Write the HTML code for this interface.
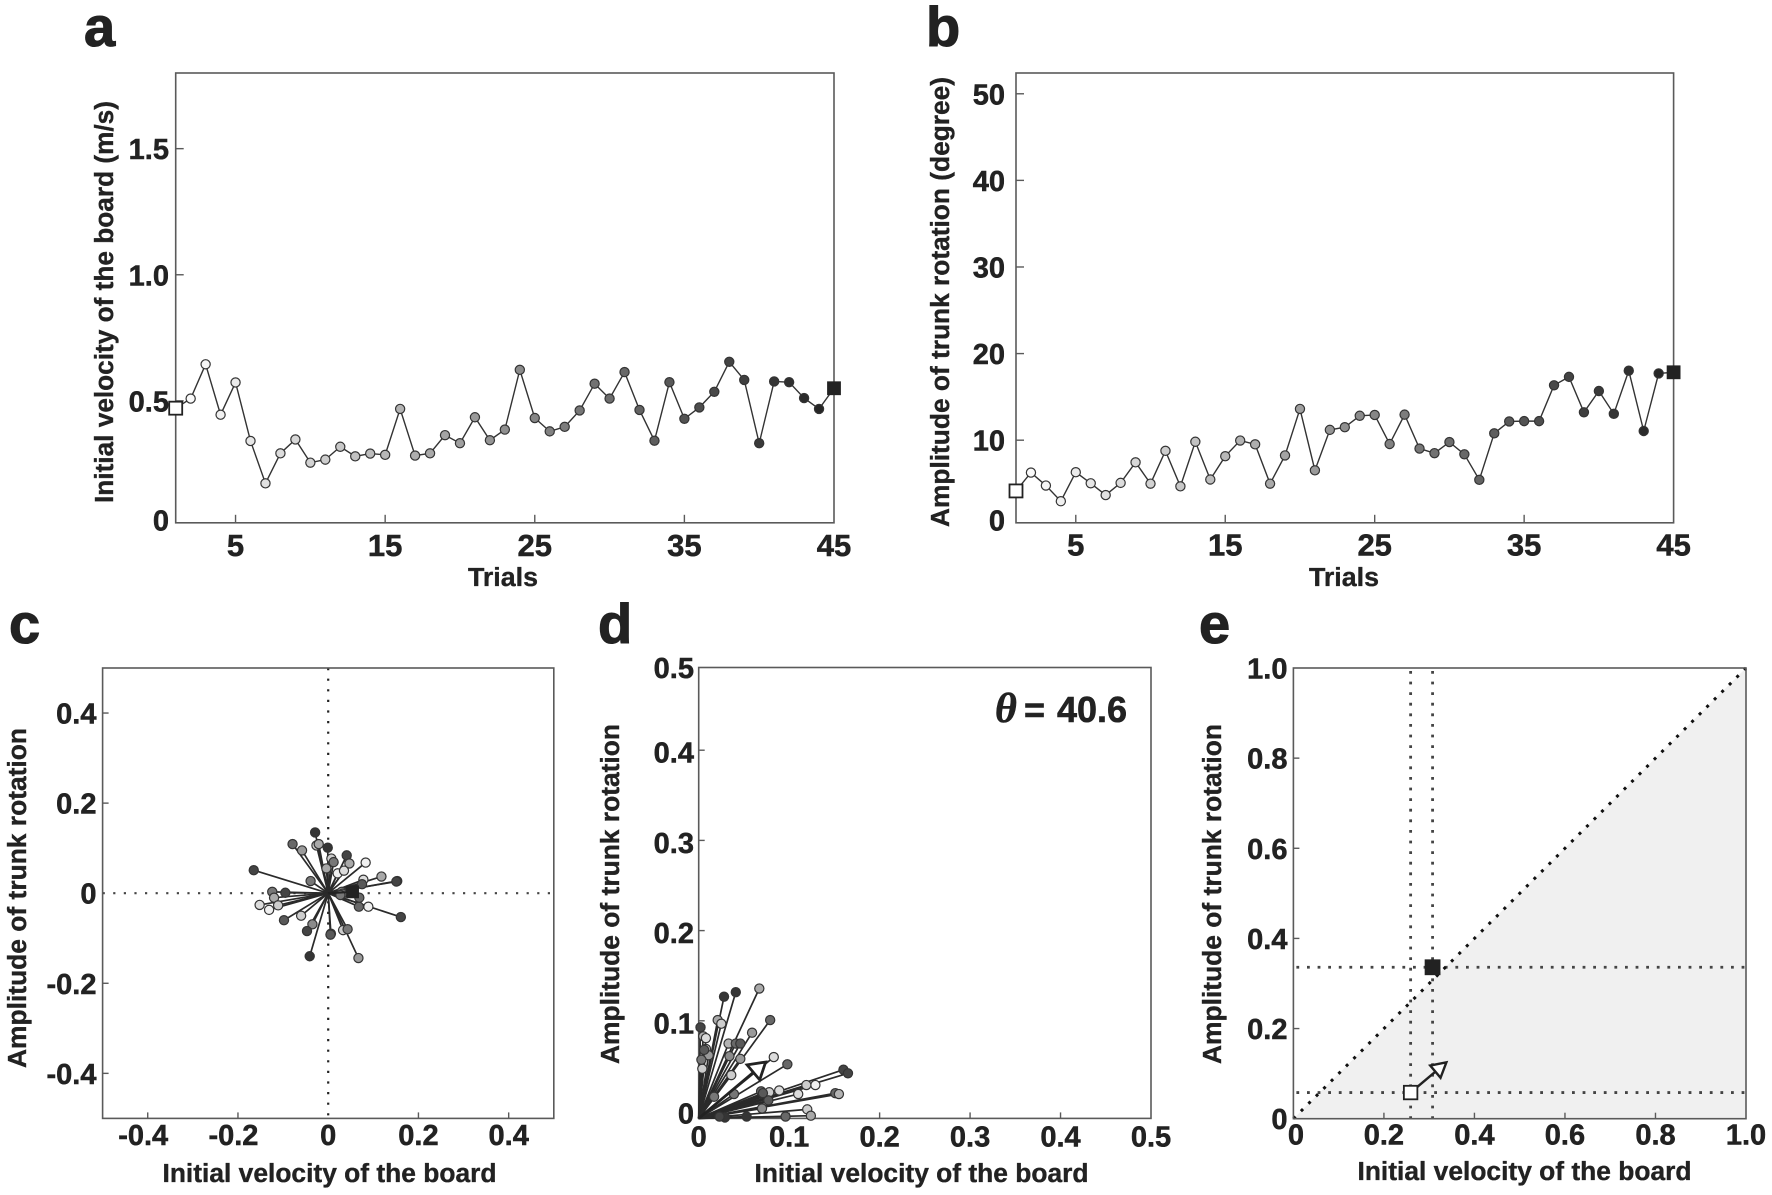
<!DOCTYPE html>
<html lang="en">
<head>
<meta charset="utf-8">
<title>Trunk rotation and board velocity panels</title>
<style>
html,body{margin:0;padding:0;background:#fff;}
svg{display:block;filter:blur(0.35px);}
text{font-family:"Liberation Sans",sans-serif;font-weight:700;fill:#222;}
.tick{font-size:29px;stroke:#222;stroke-width:0.5px;}
.title{font-size:25.5px;stroke:#222;stroke-width:0.35px;}
.letter{font-size:56px;stroke:#222;stroke-width:1.1px;}
.note{stroke:#222;stroke-width:0.6px;}
</style>
</head>
<body>
<svg id="figure" xmlns="http://www.w3.org/2000/svg" width="1772" height="1195" viewBox="0 0 1772 1195">
  <rect width="1772" height="1195" fill="#fff"/>

  <g id="panel-a"></g>
  <g id="panel-b"></g>
  <g id="panel-c"></g>
  <g id="panel-d"></g>
  <g id="panel-e"></g>

  <text class="letter" x="84" y="46">a</text>
  <text class="letter" x="926" y="46">b</text>
  <text class="letter" x="9" y="643">c</text>
  <text class="letter" x="598" y="643">d</text>
  <text class="letter" x="1199" y="643">e</text>

  <text class="title" transform="translate(113,302) rotate(-90)" text-anchor="middle" textLength="402" lengthAdjust="spacingAndGlyphs">Initial velocity of the board (m/s)</text>
  <text class="title" x="503" y="586" text-anchor="middle" textLength="70" lengthAdjust="spacingAndGlyphs">Trials</text>
  <text class="title" transform="translate(949,302) rotate(-90)" text-anchor="middle" textLength="450" lengthAdjust="spacingAndGlyphs">Amplitude of trunk rotation (degree)</text>
  <text class="title" x="1344" y="586" text-anchor="middle" textLength="70" lengthAdjust="spacingAndGlyphs">Trials</text>
  <text class="title" transform="translate(26,898) rotate(-90)" text-anchor="middle" textLength="340" lengthAdjust="spacingAndGlyphs">Amplitude of trunk rotation</text>
  <text class="title" x="329.5" y="1182" text-anchor="middle" textLength="334" lengthAdjust="spacingAndGlyphs">Initial velocity of the board</text>
  <text class="title" transform="translate(619,894) rotate(-90)" text-anchor="middle" textLength="340" lengthAdjust="spacingAndGlyphs">Amplitude of trunk rotation</text>
  <text class="title" x="921.5" y="1182" text-anchor="middle" textLength="334" lengthAdjust="spacingAndGlyphs">Initial velocity of the board</text>
  <text class="title" transform="translate(1221,894) rotate(-90)" text-anchor="middle" textLength="340" lengthAdjust="spacingAndGlyphs">Amplitude of trunk rotation</text>
  <text class="title" x="1524.5" y="1180" text-anchor="middle" textLength="334" lengthAdjust="spacingAndGlyphs">Initial velocity of the board</text>

  <text class="note" x="995" y="722" font-size="36">
    <tspan style="font-family:'Liberation Serif',serif;font-style:italic;font-weight:700" font-size="42">θ</tspan>
    <tspan x="1024">=</tspan>
    <tspan x="1057">40.6</tspan>
  </text>
</svg>

<script>
/* ---------- chart data ---------- */
const trials = [1,2,3,4,5,6,7,8,9,10,11,12,13,14,15,16,17,18,19,20,21,22,23,24,25,26,27,28,29,30,31,32,33,34,35,36,37,38,39,40,41,42,43,44,45];
const velocityValues = [.471,.509,.645,.445,.573,.341,.173,.292,.347,.255,.267,.318,.280,.291,.286,.468,.283,.292,.364,.332,.435,.344,.386,.623,.432,.379,.397,.462,.568,.509,.614,.464,.342,.574,.429,.474,.536,.655,.583,.332,.577,.574,.511,.468,.550];
const amplitudeValues = [4.14,6.26,4.76,2.95,6.30,5.02,3.66,5.07,7.44,4.98,8.77,4.67,9.82,5.46,8.15,9.96,9.52,4.98,8.24,13.61,6.52,11.19,11.5,12.82,12.91,9.56,12.95,9.03,8.5,9.78,8.37,5.42,10.79,12.16,12.2,12.2,16.34,17.31,13.22,15.68,13.04,18.02,11.06,17.71,17.84];
const trialTicks = [5,15,25,35,45];
const velocityTicks = [0,0.5,1.0,1.5];
const velocityTickLabels = ["0","0.5","1.0","1.5"];
const amplitudeTicks = [0,10,20,30,40,50];
const amplitudeTickLabels = ["0","10","20","30","40","50"];

const detrendedX = [-.029,-.079,-.058,-.026,-.021,-.001,.041,.007,.012,.047,.083,-.004,.021,.035,-.039,.118,.078,.075,.153,.151,-.165,-.124,-.095,-.120,-.152,-.111,-.131,-.098,-.060,-.035,-.047,-.041,.006,.005,.033,.043,.067,.161,.089,.068,.069,.030,.032,.027];
const detrendedY = [.135,.109,.095,.106,.109,.101,.084,.077,.069,.066,.068,.055,.044,.050,.027,.037,.030,.020,.027,.026,.051,.003,.001,-.010,-.026,-.027,-.037,-.060,-.050,-.069,-.084,-.140,-.090,-.092,-.082,-.080,-.144,-.053,-.030,-.030,-.010,.003,-.001,-.004];
const detrendedTrial = [41,31,21,11,18,41,38,11,28,18,4,18,4,8,28,18,8,34,34,38,38,28,38,18,8,11,4,34,11,24,38,41,18,34,11,28,21,38,4,31,31,24,31,28];
const detrendedFinal = [.054,.003];

const absoluteX = [.028,.041,.067,.021,.025,.079,.002,.059,.005,.008,.033,.041,.046,.008,.011,.004,.034,.046,.083,.098,.036,.160,.165,.129,.119,.089,.078,.069,.110,.151,.155,.039,.077,.070,.120,.124,.096,.053,.029,.071,.003,.006,.017,.023];
const absoluteY = [.135,.140,.144,.109,.105,.109,.101,.095,.091,.089,.083,.083,.083,.077,.070,.055,.069,.066,.068,.060,.048,.054,.050,.037,.037,.031,.029,.030,.027,.028,.027,.027,.020,.011,.010,.003,.002,.002,.001,.028,.065,.076,.024,.002];
const absoluteTrial = [41,41,18,18,11,31,38,21,16,8,16,31,34,11,21,11,24,21,8,31,11,38,38,4,11,8,11,31,8,31,16,28,34,24,11,18,31,41,41,34,28,34,28,38];
const meanVector = [.074,.0625];

const symmetricTicks = [-0.4,-0.2,0,0.2,0.4];
const symmetricTickLabels = ["-0.4","-0.2","0","0.2","0.4"];
const halfTicks = [0,0.1,0.2,0.3,0.4,0.5];
const halfTickLabels = ["0","0.1","0.2","0.3","0.4","0.5"];
const unitTicks = [0,0.2,0.4,0.6,0.8,1.0];
const unitTickLabels = ["0","0.2","0.4","0.6","0.8","1.0"];

const firstBlock = [.259,.058];
const lastBlock = [.3075,.336];
const changeVectorTip = [.338,.125];

/* ---------- helpers ---------- */
const NS = "http://www.w3.org/2000/svg";
function mk(parent, tag, attrs) {
  const e = document.createElementNS(NS, tag);
  for (const k in attrs) e.setAttribute(k, attrs[k]);
  parent.appendChild(e);
  return e;
}
function scale(d0, d1, r0, r1) {
  return v => r0 + (v - d0) / (d1 - d0) * (r1 - r0);
}
function shade(trial) {
  const g = Math.round(255 - (trial - 1) / 44 * 222);
  return "rgb(" + g + "," + g + "," + g + ")";
}
const AXIS = "#5a5a5a";

function drawFrame(g, box) {
  const r = mk(g, "rect", {x: box.l, y: box.t, width: box.r - box.l, height: box.b - box.t, fill: "none", stroke: AXIS, "stroke-width": 1.6});
  
  
}
function drawXAxis(g, box, sx, ticks, labels, opt) {
  ticks.forEach((v, i) => {
    const x = sx(v);
    if (!opt.skip || opt.skip.indexOf(v) < 0) {
      const t = mk(g, "line", {x1: x, x2: x, y1: box.b, y2: box.b - opt.len, stroke: AXIS, "stroke-width": 1.4});
      
      
    }
    const s = String(labels[i]);
    let lx = x + (s[0] === "-" ? -4.5 : 0) + (opt.labelShift ? opt.labelShift(v) : 0);
    const tx = mk(g, "text", {x: lx, y: opt.baseline, "text-anchor": "middle", class: "tick"});
    if (opt.size) tx.style.fontSize = opt.size + "px";
    tx.textContent = s;
    
    
  });
}
function drawYAxis(g, box, sy, ticks, labels, opt) {
  ticks.forEach((v, i) => {
    const y = Math.max(Math.min(sy(v), box.b), box.t);
    if (!opt.skip || opt.skip.indexOf(v) < 0) {
      const t = mk(g, "line", {x1: box.l, x2: box.l + opt.len, y1: y, y2: y, stroke: AXIS, "stroke-width": 1.4});
      
      
    }
    const shift = opt.labelShift ? opt.labelShift(v) : 0;
    const tx = mk(g, "text", {x: opt.right, y: y + 10.5 + shift, "text-anchor": "end", class: "tick"});
    tx.textContent = labels[i];
    
    
  });
}
function drawSquare(g, cx, cy, size, fill, name) {
  const s = mk(g, "rect", {x: cx - size / 2, y: cy - size / 2, width: size, height: size, fill: fill, stroke: "#222", "stroke-width": 1.8});
  
  
}
function drawSeries(g, sx, sy, xs, ys) {
  const d = xs.map((x, i) => (i ? "L" : "M") + sx(x).toFixed(2) + " " + sy(ys[i]).toFixed(2)).join("");
  const p = mk(g, "path", {d: d, fill: "none", stroke: "#333", "stroke-width": 1.4});
  
  
  xs.forEach((x, i) => {
    if (i === 0 || i === xs.length - 1) return;
    const c = mk(g, "circle", {cx: sx(x), cy: sy(ys[i]), r: 4.6, fill: shade(x), stroke: "#333", "stroke-width": 1.2});
    
    
  });
  drawSquare(g, sx(xs[0]), sy(ys[0]), 13, "#fff", "first-trial-marker");
  drawSquare(g, sx(xs[xs.length - 1]), sy(ys[ys.length - 1]), 12, "#222", "last-trial-marker");
}
function drawSpokes(g, sx, sy, xs, ys, ts) {
  xs.forEach((x, i) => {
    const l = mk(g, "line", {x1: sx(0), y1: sy(0), x2: sx(x), y2: sy(ys[i]), stroke: "#2a2a2a", "stroke-width": 1.7});
    
    
  });
  xs.forEach((x, i) => {
    const c = mk(g, "circle", {cx: sx(x), cy: sy(ys[i]), r: 4.6, fill: shade(ts[i]), stroke: "#333", "stroke-width": 1.2});
    
    
  });
}
function drawArrow(g, x0, y0, x1, y1, head, half, width) {
  const len = Math.hypot(x1 - x0, y1 - y0), ux = (x1 - x0) / len, uy = (y1 - y0) / len;
  const bx = x1 - ux * head, by = y1 - uy * head;
  const shaft = mk(g, "line", {x1: x0, y1: y0, x2: bx, y2: by, stroke: "#222", "stroke-width": width});
  
  
  const pts = [x1, y1, bx - uy * half, by + ux * half, bx + uy * half, by - ux * half].map(n => n.toFixed(2)).join(" ");
  const tip = mk(g, "polygon", {points: pts, fill: "#fff", stroke: "#222", "stroke-width": width, "stroke-linejoin": "miter"});
  
  
}
function dotted(g, x1, y1, x2, y2, name, color, w, gap) {
  const l = mk(g, "line", {x1: x1, y1: y1, x2: x2, y2: y2, stroke: color, "stroke-width": w, "stroke-dasharray": w + " " + gap});
  
  
}

/* ---------- panel a ---------- */
(function () {
  const g = document.getElementById("panel-a");
  const box = {l: 175.7, r: 834, t: 73, b: 522.8};
  const sx = scale(1, 45, box.l, box.r), sy = scale(0.0165, 1.8, box.b, box.t);
  drawFrame(g, box);
  drawXAxis(g, box, sx, trialTicks, trialTicks, {len: 8, baseline: 556, size: 31, skip: [45]});
  drawYAxis(g, box, sy, velocityTicks, velocityTickLabels, {len: 8, right: 169, skip: [0], labelShift: v => v === 0 ? -3 : 0});
  drawSeries(g, sx, sy, trials, velocityValues);
})();

/* ---------- panel b ---------- */
(function () {
  const g = document.getElementById("panel-b");
  const box = {l: 1016, r: 1673.6, t: 73, b: 522.8};
  const sx = scale(1, 45, box.l, box.r), sy = scale(0.46, 52.4, box.b, box.t);
  drawFrame(g, box);
  drawXAxis(g, box, sx, trialTicks, trialTicks, {len: 8, baseline: 555.5, size: 31, skip: [45]});
  drawYAxis(g, box, sy, amplitudeTicks, amplitudeTickLabels, {len: 8, right: 1005, skip: [0], labelShift: v => v === 0 ? -3 : 0});
  drawSeries(g, sx, sy, trials, amplitudeValues);
})();

/* ---------- panel c ---------- */
(function () {
  const g = document.getElementById("panel-c");
  const box = {l: 102.6, r: 553.8, t: 668, b: 1118.4};
  const sx = scale(-0.5, 0.5, box.l, box.r), sy = scale(-0.5, 0.5, box.b, box.t);
  dotted(g, box.l, sy(0), box.r, sy(0), "zero-line-horizontal", "#444", 2.2, 8.4);
  dotted(g, sx(0), box.t, sx(0), box.b, "zero-line-vertical", "#222", 2.2, 8.4);
  drawFrame(g, box);
  drawXAxis(g, box, sx, symmetricTicks, symmetricTickLabels, {len: 6, baseline: 1145, skip: [0]});
  drawYAxis(g, box, sy, symmetricTicks, symmetricTickLabels, {len: 6, right: 96.5, skip: [0]});
  drawSpokes(g, sx, sy, detrendedX, detrendedY, detrendedTrial);
  const l = mk(g, "line", {x1: sx(0), y1: sy(0), x2: sx(detrendedFinal[0]), y2: sy(detrendedFinal[1]), stroke: "#222", "stroke-width": 2});
  
  
  drawSquare(g, sx(detrendedFinal[0]), sy(detrendedFinal[1]), 11, "#222", "final-trial-marker");
})();

/* ---------- panel d ---------- */
(function () {
  const g = document.getElementById("panel-d");
  const box = {l: 698.7, r: 1151, t: 667.5, b: 1118.4};
  const sx = scale(0, 0.5, box.l, box.r), sy = scale(0, 0.5, box.b, box.t);
  /* the printed y ticks sit about 7px above the plot corner in the source figure */
  const syTicks = scale(0, 0.5, 1111, 660);
  drawFrame(g, box);
  drawXAxis(g, box, sx, halfTicks, halfTickLabels, {len: 6, baseline: 1146.5, skip: [0, 0.5]});
  drawYAxis(g, box, syTicks, halfTicks, halfTickLabels, {len: 6, right: 694, skip: [0, 0.5], labelShift: v => v === 0.5 ? 0 : 2});
  drawSpokes(g, sx, sy, absoluteX, absoluteY, absoluteTrial);
  drawArrow(g, sx(0), sy(0), sx(meanVector[0]), sy(meanVector[1]), 16, 9.8, 2.8);
})();

/* ---------- panel e ---------- */
(function () {
  const g = document.getElementById("panel-e");
  const box = {l: 1293.4, r: 1746, t: 668, b: 1118.7};
  const sx = scale(0, 1, box.l, box.r), sy = scale(0, 1, box.b, box.t);
  const area = mk(g, "polygon", {points: [sx(0), sy(0), sx(1), sy(0), sx(1), sy(1)].join(" "), fill: "#f0f0f0"});
  
  
  dotted(g, sx(firstBlock[0]), box.t + 3, sx(firstBlock[0]), box.b, "first-velocity-guide", "#444", 2.8, 7.8);
  dotted(g, sx(lastBlock[0]), box.t + 3, sx(lastBlock[0]), box.b, "last-velocity-guide", "#444", 2.8, 7.8);
  dotted(g, box.l + 3, sy(firstBlock[1]), box.r, sy(firstBlock[1]), "first-amplitude-guide", "#444", 2.8, 7.8);
  dotted(g, box.l + 3, sy(lastBlock[1]), box.r, sy(lastBlock[1]), "last-amplitude-guide", "#444", 2.8, 7.8);
  const diag = mk(g, "line", {x1: sx(0), y1: sy(0), x2: sx(1), y2: sy(1), stroke: "#111", "stroke-width": 3, "stroke-dasharray": "3 7.6"});
  
  
  drawFrame(g, box);
  drawXAxis(g, box, sx, unitTicks, unitTickLabels, {len: 6, baseline: 1144.5, skip: [0, 1.0], labelShift: v => v === 0 ? 2.5 : 0});
  drawYAxis(g, box, sy, unitTicks, unitTickLabels, {len: 6, right: 1287.5, skip: [0, 1.0]});
  drawArrow(g, sx(firstBlock[0]), sy(firstBlock[1]), sx(changeVectorTip[0]), sy(changeVectorTip[1]), 14.4, 8, 2.4);
  drawSquare(g, sx(firstBlock[0]), sy(firstBlock[1]), 13.5, "#fff", "first-block-marker");
  drawSquare(g, sx(lastBlock[0]), sy(lastBlock[1]), 14, "#222", "last-block-marker");
})();
</script>
</body>
</html>
